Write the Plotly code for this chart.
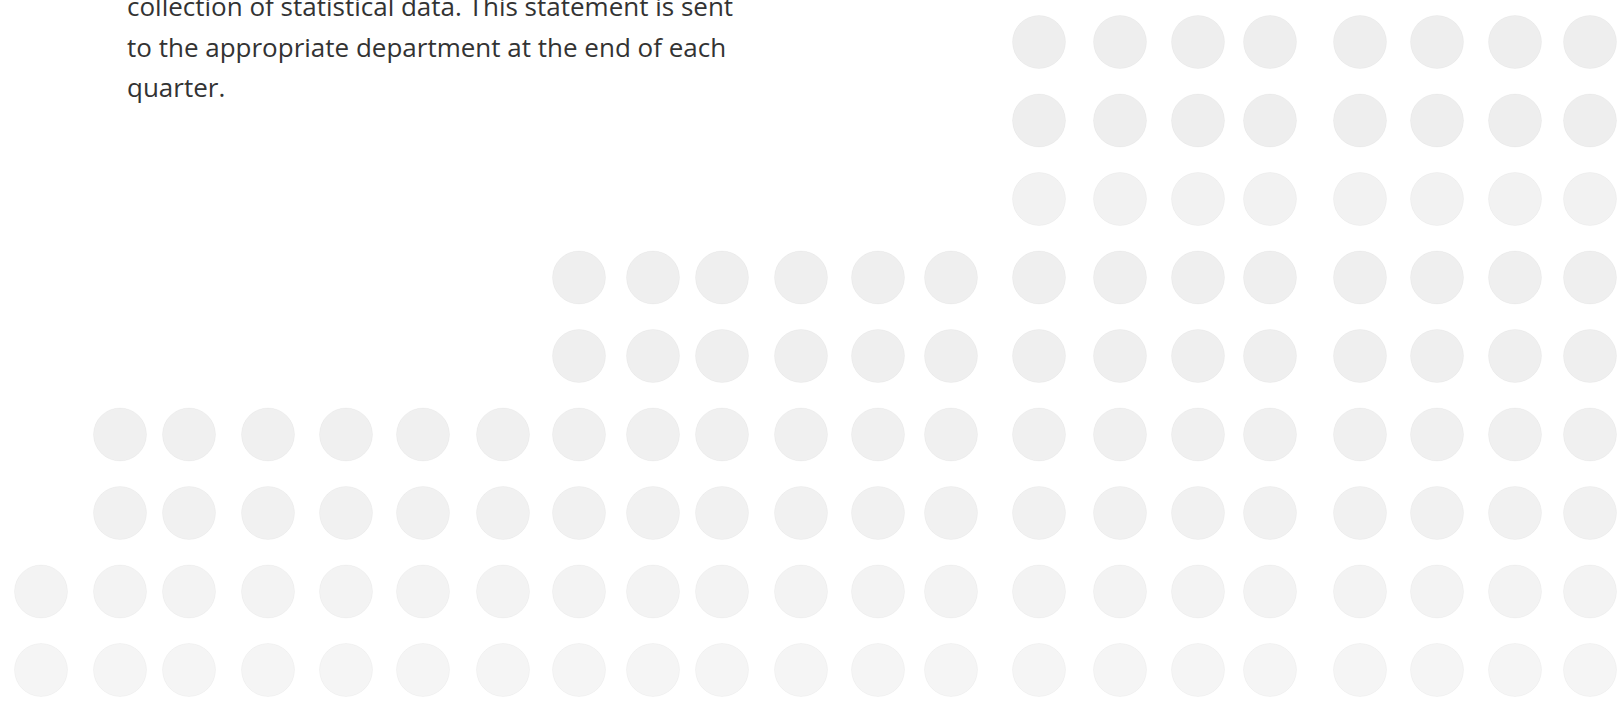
import plotly.graph_objects as go

# ---- data ----
column_positions = [4.1, 12.0, 18.9, 26.8, 34.6, 42.3, 50.3, 57.9, 65.3, 72.2, 80.1,
                    87.8, 95.1, 103.9, 112.0, 119.8, 127.0, 136.0, 143.7, 151.5, 159.0]
column_counts = [2, 4, 4, 4, 4, 4, 4, 6, 6, 6, 6, 6, 6, 9, 9, 9, 9, 9, 9, 9, 9]

text_lines = [
    "collection of statistical data. This statement is sent",
    "to the appropriate department at the end of each",
    "quarter.",
]

# ---- styles ----
row_shades = ["#f5f5f5", "#f3f3f3", "#f1f1f1", "#f0f0f0", "#efefef",
              "#efefef", "#f2f2f2", "#eeeeee", "#eeeeee"]

xs, ys, cols = [], [], []
for x, n in zip(column_positions, column_counts):
    for k in range(1, n + 1):
        xs.append(x)
        ys.append(k)
        cols.append(row_shades[k - 1])

fig = go.Figure()
fig.add_trace(go.Scatter(
    x=xs, y=ys, mode="markers", hoverinfo="skip", showlegend=False,
    marker=dict(size=53, color=cols, line=dict(width=1, color="rgba(0,0,0,0.03)")),
))

W, H = 1619, 709
baselines = [15, 56, 96]
for line, b in zip(text_lines, baselines):
    fig.add_annotation(
        text=line, xref="paper", yref="paper", x=125 / W, y=1 - (b - 9) / H,
        xanchor="left", yanchor="middle", showarrow=False,
        font=dict(family="Open Sans", size=26, color="#333333"),
    )

fig.update_layout(
    width=W, height=H, margin=dict(l=0, r=0, t=0, b=0),
    paper_bgcolor="white", plot_bgcolor="white",
    xaxis=dict(range=[0, 161.9], visible=False, fixedrange=True),
    yaxis=dict(range=[0.503, 9.535], visible=False, fixedrange=True),
)

fig.write_html(
    "out.html",
    config={"displayModeBar": False},
    post_script="document.body.style.margin='0';document.body.style.overflow='hidden';",
)
